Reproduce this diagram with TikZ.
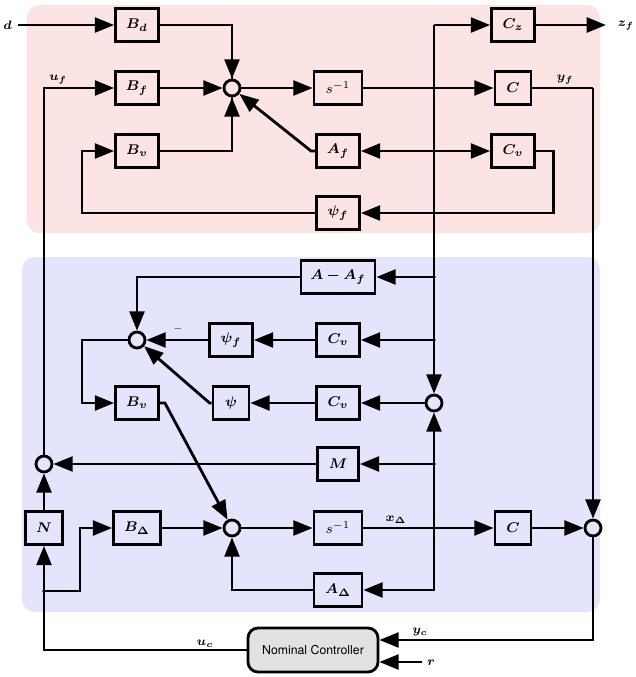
\documentclass[tikz,border=0pt]{standalone}
\usepackage{fontspec}
\setsansfont{TeX Gyre Heros}
\usepackage{amsmath,amssymb}
\usepackage{bm}
\usepackage{tikz}
\usetikzlibrary{calc, arrows.meta}
\usetikzlibrary{positioning}
\definecolor{upperpink}{RGB}{252,228,228}
\definecolor{lowerblue}{RGB}{228,228,252}
\definecolor{ctrlgray}{RGB}{226,226,226}

\begin{document}
\begin{tikzpicture}[x=0.02cm, y=-0.02cm,
    block/.style={draw, line width=1.6pt, minimum width=0.86cm, minimum height=0.66cm, inner sep=1pt, font=\footnotesize},
    sumnode/.style={draw, circle, line width=1.6pt, minimum size=0.32cm, inner sep=0pt},
    sig/.style={font=\scriptsize},
    wire/.style={line width=1.6pt},
    arr/.style={wire, -{Triangle[length=11pt,width=8.5pt]}},
    dbl/.style={wire, {Triangle[length=11pt,width=8.5pt]}-{Triangle[length=11pt,width=8.5pt]}}]
    \useasboundingbox (0,0) rectangle (636,677);
    % backgrounds
    \fill[upperpink, rounded corners=0.25cm] (27,5) rectangle (600,233);
    \fill[lowerblue, rounded corners=0.25cm] (22,257) rectangle (600,612);

    % filter part
    \node[block] (Bd) at (137,25) {$\bm{B_d}$};
    \node[block] (Bf) at (137,88) {$\bm{B_f}$};
    \node[block] (Bvf) at (137,151) {$\bm{B_v}$};
    \node[sumnode] (sumf) at (232,88) {};
    \node[block, minimum width=0.96cm] (sinvf) at (338,88) {$s^{-1}$};
    \node[block] (Af) at (338,151) {$\bm{A_f}$};
    \node[block] (psiff) at (338,213) {$\bm{\psi_f}$};
    \node[block] (Cz) at (513,25) {$\bm{C_z}$};
    \node[block, minimum width=0.72cm] (Cf) at (513,88) {$\bm{C}$};
    \node[block] (Cvf) at (513,151) {$\bm{C_v}$};

    % uncertainty part
    \node[block, minimum width=1.48cm] (AmAf) at (338,277) {$\bm{A-A_f}$};
    \node[sumnode] (sumv) at (137,340) {};
    \node[block] (psifd) at (231,340) {$\bm{\psi_f}$};
    \node[block] (Cva) at (338,340) {$\bm{C_v}$};
    \node[block] (Bvd) at (137,403) {$\bm{B_v}$};
    \node[block, minimum width=0.72cm] (psid) at (231,403) {$\bm{\psi}$};
    \node[block] (Cvb) at (338,403) {$\bm{C_v}$};
    \node[sumnode] (sumx) at (434,403) {};
    \node[block, minimum width=0.82cm] (Md) at (338,464) {$\bm{M}$};
    \node[sumnode] (sumu) at (44,464) {};
    \node[block, minimum width=0.74cm] (Nd) at (44,528) {$\bm{N}$};
    \node[block, minimum width=0.94cm] (BD) at (137,528) {$\bm{B_\Delta}$};
    \node[sumnode] (sumd) at (232,528) {};
    \node[block, minimum width=0.96cm] (sinvd) at (338,528) {$s^{-1}$};
    \node[block, minimum width=0.72cm] (Cd) at (513,528) {$\bm{C}$};
    \node[sumnode] (sumy) at (593,528) {};
    \node[block, minimum width=0.96cm] (AD) at (338,590) {$\bm{A_\Delta}$};

    \node[draw, line width=1.6pt, fill=ctrlgray, rounded corners=0.2cm, minimum width=2.6cm, minimum height=0.88cm,
        font=\sffamily\fontsize{7}{8}\selectfont] (ctrl) at (313,650) {Nominal Controller};

    \coordinate[label={[sig]left:$\bm{d}$}] (din) at (18,25);
    \coordinate (xtop) at (434,25);
    \coordinate (zout) at (606,25);
    \coordinate (yf) at (593,88);
    \coordinate (uf) at (44,88);
    \coordinate (fb) at (82,213);
    \coordinate (ja) at (434,277);
    \coordinate (jb) at (434,340);
    \coordinate (lv) at (82,340);
    \coordinate (jc) at (434,464);
    \coordinate (jd) at (434,528);
    \coordinate (je) at (434,590);
    \coordinate (jn) at (44,591);
    \coordinate (yc) at (593,640);
    \coordinate (rin) at (422,662);

    % filter wires
    \draw[arr] (din) -- (Bd);
    \draw[wire] (Bd) -| (sumf.north);
    \draw[arr] (Bd -| sumf) -- (sumf);
    \draw[arr] (Bf) -- (sumf);
    \draw[wire] (Bvf) -| (sumf.south);
    \draw[arr] (Bvf -| sumf) -- (sumf);
    \draw[arr] (Af.west) -- ++(-4,0) -- (sumf);
    \draw[arr] (sumf) -- (sinvf);
    \draw[arr] (sinvf) -- (Cf);
    \draw[arr] (xtop) -- (Cz);
    \draw[arr] (Cz) -- (zout);
    \draw[dbl] (Af) -- (Cvf);
    \draw[arr] (Cvf.east) -- ++(18,0) |- (psiff);
    \draw[arr] (psiff) -- (fb) |- (Bvf);
    \draw[wire] (Cf) -- (yf);
    \draw[arr] (yf) -- (sumy);
    \draw[arr] (sumu) -- (uf) -- (Bf);
    \draw[arr] (xtop) -- (sumx);

    % uncertainty wires
    \draw[arr] (ja) -- (AmAf);
    \draw[arr] (AmAf) -| (sumv);
    \draw[arr] (jb) -- (Cva);
    \draw[arr] (Cva) -- (psifd);
    \draw[arr] (psifd) -- (sumv);
    \draw[arr] (sumv) -- (lv) |- (Bvd);
    \draw[arr] (sumx) -- (Cvb);
    \draw[arr] (Cvb) -- (psid);
    \draw[arr] (psid.west) -- ++(-2,0) -- (sumv);
    \draw[arr] (Bvd.east) -- ++(5,0) -- (sumd);
    \draw[arr] (jc) -- (Md);
    \draw[arr] (Md) -- (sumu);
    \draw[arr] (Nd) -- (sumu);
    \draw[arr] (BD) -- (sumd);
    \draw[arr] (sumd) -- (sinvd);
    \draw[arr] (sinvd) -- (Cd);
    \draw[arr] (Cd) -- (sumy);
    \draw[arr] (jd) -- (sumx);
    \draw[arr] (jd) -- (je) -- (AD);
    \draw[arr] (AD) -| (sumd);
    \draw[arr] (jn) -- (80,591) |- (BD);

    % controller wires
    \draw[arr] (ctrl.west) -| (Nd);
    \draw[arr] (sumy) -- (yc) -- (yc -| ctrl.east);
    \draw[arr] (rin) -- (rin -| ctrl.east);

    \foreach \j in {ja, jb, jc, jd, jn}
        \fill (\j) circle (1.1pt);

    % signal labels
    \node[sig] (lblz) at (626,26) {$\bm{z_f}$};
    \node[sig] (lbluf) at (58,80) {$\bm{u_f}$};
    \node[sig] (lblyf) at (565,80) {$\bm{y_f}$};
    \node[sig] (lblx) at (396,520) {$\bm{x_\Delta}$};
    \node[sig] (lbluc) at (205,644) {$\bm{u_c}$};
    \node[sig] (lblyc) at (420,632) {$\bm{y_c}$};
    \node[sig] (lblr) at (431,663) {$\bm{r}$};
    \node[font=\tiny] (lblm) at (178,329) {$-$};
\end{tikzpicture}
\end{document}
